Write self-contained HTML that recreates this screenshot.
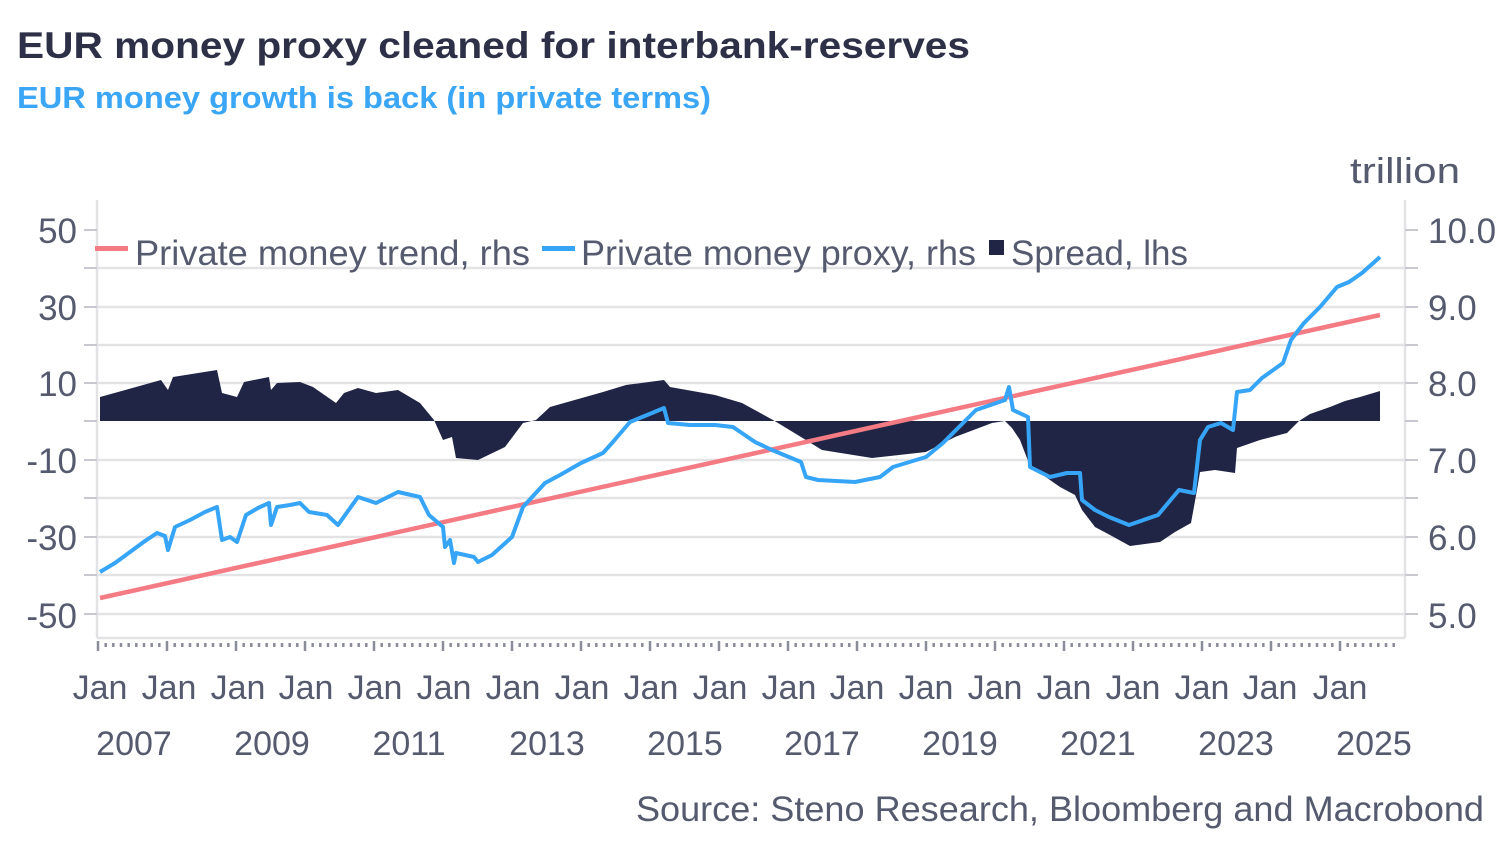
<!DOCTYPE html>
<html><head><meta charset="utf-8"><style>
body{margin:0;background:#fff;}
svg{display:block}
</style></head><body>
<svg id="s" width="1505" height="846" viewBox="0 0 1505 846" xmlns="http://www.w3.org/2000/svg" font-family="Liberation Sans, sans-serif">
<text x="17" y="58" font-size="37" font-weight="bold" fill="#2d3047" textLength="953" lengthAdjust="spacingAndGlyphs">EUR money proxy cleaned for interbank-reserves</text>
<text x="17" y="108" font-size="31" font-weight="bold" fill="#3aa6f5" textLength="694" lengthAdjust="spacingAndGlyphs">EUR money growth is back (in private terms)</text>
<text x="1350" y="183" font-size="36" fill="#555a6e" textLength="110" lengthAdjust="spacingAndGlyphs">trillion</text>
<g stroke="#e3e3e6" stroke-width="2.5">
<line x1="97" x2="1405" y1="268" y2="268"/><line x1="97" x2="1405" y1="307" y2="307"/>
<line x1="97" x2="1405" y1="345" y2="345"/><line x1="97" x2="1405" y1="383" y2="383"/>
<line x1="97" x2="1405" y1="460" y2="460"/><line x1="97" x2="1405" y1="498" y2="498"/>
<line x1="97" x2="1405" y1="537" y2="537"/><line x1="97" x2="1405" y1="575" y2="575"/>
<line x1="97" x2="1405" y1="614" y2="614"/>
<line x1="97" x2="97" y1="200" y2="638"/><line x1="1405" x2="1405" y1="200" y2="638"/>
<line x1="97" x2="1405" y1="638" y2="638"/>
</g>
<g stroke="#c8c9d0" stroke-width="2">
<line x1="1405" x2="1418" y1="230" y2="230"/><line x1="1405" x2="1418" y1="268" y2="268"/><line x1="1405" x2="1418" y1="307" y2="307"/><line x1="1405" x2="1418" y1="345" y2="345"/><line x1="1405" x2="1418" y1="383" y2="383"/><line x1="1405" x2="1418" y1="421" y2="421"/><line x1="1405" x2="1418" y1="460" y2="460"/><line x1="1405" x2="1418" y1="498" y2="498"/><line x1="1405" x2="1418" y1="537" y2="537"/><line x1="1405" x2="1418" y1="575" y2="575"/><line x1="1405" x2="1418" y1="614" y2="614"/>
<line x1="84" x2="97" y1="230" y2="230"/><line x1="84" x2="97" y1="268" y2="268"/><line x1="84" x2="97" y1="307" y2="307"/><line x1="84" x2="97" y1="345" y2="345"/><line x1="84" x2="97" y1="383" y2="383"/><line x1="84" x2="97" y1="421" y2="421"/><line x1="84" x2="97" y1="460" y2="460"/><line x1="84" x2="97" y1="498" y2="498"/><line x1="84" x2="97" y1="537" y2="537"/><line x1="84" x2="97" y1="575" y2="575"/><line x1="84" x2="97" y1="614" y2="614"/>
</g>
<g id="ticks" stroke="#8a8c99" stroke-width="2.5"></g>
<polygon fill="#212545" points="100,421 100,397 161,380 168,390 173,377 217,370 222,393 237,397 244,382 269,377 271,390 277,383 300,382 313,387 336,403 344,393 358,388 376,393 398,390 420,403 434,420 443,440 452,437 456,458 478,460 505,447 523,423 536,420 550,407 603,392 626,385 664,380 670,387 715,395 742,403 773,420 801,437 822,450 872,458 926,452 955,437 992,423 1005,421 1012,428 1020,440 1030,466 1050,480 1060,487 1075,495 1082,510 1095,527 1110,535 1130,546 1160,542 1175,532 1191,523 1197,490 1200,472 1215,470 1235,473 1237,448 1260,440 1287,433 1299,421 1310,414 1330,407 1345,401 1360,397 1380,391 1380,421"/>
<line x1="100" y1="598" x2="1380" y2="315" stroke="#f47b84" stroke-width="4.5"/>
<polyline fill="none" stroke="#36a5f7" stroke-width="4" stroke-linejoin="round" points="100,572 115,563 130,552 145,541 157,533 165,536 168,550 175,527 190,520 205,512 217,507 222,540 230,537 237,542 246,515 258,508 269,503 271,525 277,507 290,505 300,503 309,512 327,515 338,525 358,497 376,503 398,492 420,497 429,515 443,527 445,547 450,540 454,563 456,553 474,557 478,562 492,555 512,537 523,507 545,483 560,475 581,463 603,453 612,443 630,422 652,413 664,408 668,423 690,425 715,425 733,427 755,442 772,450 801,462 806,477 818,480 855,482 880,477 893,467 926,457 943,443 976,410 1005,400 1009,387 1013,410 1028,417 1030,467 1050,477 1067,473 1080,473 1082,500 1095,510 1109,517 1129,525 1158,515 1179,490 1194,493 1200,440 1208,427 1221,423 1233,430 1237,392 1250,390 1262,378 1283,363 1291,340 1304,323 1320,307 1337,287 1349,282 1362,273 1380,257"/>
<g font-size="35" fill="#555a6e">
<text x="77" y="243" text-anchor="end">50</text><text x="77" y="320" text-anchor="end">30</text><text x="77" y="396" text-anchor="end">10</text><text x="77" y="473" text-anchor="end">-10</text><text x="77" y="550" text-anchor="end">-30</text><text x="77" y="628" text-anchor="end">-50</text>
<text x="1428" y="243">10.0</text><text x="1428" y="320">9.0</text><text x="1428" y="396">8.0</text><text x="1428" y="473">7.0</text><text x="1428" y="550">6.0</text><text x="1428" y="628">5.0</text>
</g>
<rect x="95" y="246" width="33" height="5" fill="#f47b84"/>
<text x="135" y="265" font-size="35" fill="#555a6e" textLength="395" lengthAdjust="spacingAndGlyphs">Private money trend, rhs</text>
<rect x="542" y="246" width="33" height="5" fill="#36a5f7"/>
<text x="581" y="265" font-size="35" fill="#555a6e" textLength="395" lengthAdjust="spacingAndGlyphs">Private money proxy, rhs</text>
<rect x="989" y="240" width="15" height="15" fill="#212545"/>
<text x="1011" y="265" font-size="35" fill="#555a6e" textLength="177" lengthAdjust="spacingAndGlyphs">Spread, lhs</text>
<g font-size="34" fill="#555a6e" text-anchor="middle">
<text x="100" y="699">Jan</text><text x="169" y="699">Jan</text><text x="238" y="699">Jan</text><text x="306" y="699">Jan</text><text x="375" y="699">Jan</text><text x="444" y="699">Jan</text><text x="513" y="699">Jan</text><text x="582" y="699">Jan</text><text x="651" y="699">Jan</text><text x="720" y="699">Jan</text><text x="789" y="699">Jan</text><text x="857" y="699">Jan</text><text x="926" y="699">Jan</text><text x="995" y="699">Jan</text><text x="1064" y="699">Jan</text><text x="1133" y="699">Jan</text><text x="1202" y="699">Jan</text><text x="1270" y="699">Jan</text><text x="1340" y="699">Jan</text>
<text x="134" y="755">2007</text><text x="272" y="755">2009</text><text x="409" y="755">2011</text><text x="547" y="755">2013</text><text x="685" y="755">2015</text><text x="822" y="755">2017</text><text x="960" y="755">2019</text><text x="1098" y="755">2021</text><text x="1236" y="755">2023</text><text x="1374" y="755">2025</text>
</g>
<text x="1484" y="821" font-size="35" fill="#555a6e" text-anchor="end" textLength="848" lengthAdjust="spacingAndGlyphs">Source: Steno Research, Bloomberg and Macrobond</text>
</svg>
<script>
var g=document.getElementById('ticks'),h='';
for(var i=0;i<=180;i++){var x=98+i*69/9;if(x>1400)break;var major=(i%9==0);
h+='<line x1="'+x.toFixed(1)+'" x2="'+x.toFixed(1)+'" y1="'+(major?641:643)+'" y2="'+(major?651:647)+'"/>';}
g.innerHTML=h;
</script>
</body></html>
